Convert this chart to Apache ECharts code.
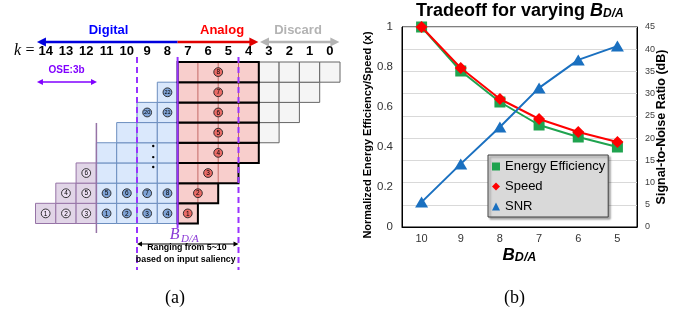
<!DOCTYPE html>
<html>
<head>
<meta charset="utf-8">
<script src="https://cdn.jsdelivr.net/npm/echarts@6/dist/echarts.min.js"></script>
<style>
  html, body { margin: 0; padding: 0; background: #fff; }
  #chart { width: 694px; height: 318px; }
</style>
</head>
<body>
<div id="chart"></div>
<script>
// ---- panel (a): bit layout ----
const bitLabels = ['14', '13', '12', '11', '10', '9', '8', '7', '6', '5', '4', '3', '2', '1', '0'];
// [bit k, row, label]
const purpleCells = [[14, 1, '1'], [13, 1, '2'], [12, 1, '3'], [13, 2, '4'], [12, 2, '5'], [12, 3, '6']];
const blueCells = [
  [11, 1, '1'], [10, 1, '2'], [9, 1, '3'], [8, 1, '4'],
  [11, 2, '5'], [10, 2, '6'], [9, 2, '7'], [8, 2, '8'],
  [11, 3, ''], [10, 3, ''], [9, 3, ''], [8, 3, ''],
  [11, 4, ''], [10, 4, ''], [9, 4, ''], [8, 4, ''],
  [10, 5, ''], [9, 5, ''], [8, 5, ''],
  [9, 6, '20'], [8, 6, '21'],
  [8, 7, '22']
];
const greyCells = [[3, 5], [3, 6], [2, 6], [3, 7], [2, 7], [1, 7], [3, 8], [2, 8], [1, 8], [0, 8]];
// [row, from bit, to bit, label]
const analogRows = [[1, 7, 7, '1'], [2, 7, 6, '2'], [3, 7, 5, '3'], [4, 7, 4, '4'],
  [5, 7, 4, '5'], [6, 7, 4, '6'], [7, 7, 4, '7'], [8, 7, 4, '8']];
const bdaBounds = [10, 8, 5]; // dashed lines sit right of these bits

// ---- panel (b): tradeoff ----
const bdaValues = ['10', '9', '8', '7', '6', '5'];
const energyEff = [1.0, 0.78, 0.625, 0.51, 0.45, 0.40];
const speed = [1.0, 0.795, 0.64, 0.54, 0.475, 0.425];
const snr = [5.6, 14.2, 22.5, 31.3, 37.6, 40.7];

const FONT = 'Arial, "Liberation Sans", sans-serif';
const SERIF = '"Liberation Serif", "DejaVu Serif", serif';

const col = k => 14 - k;

function dot(p, label, fill) {
  return {
    type: 'group', children: [
      { type: 'circle', shape: { cx: p[0], cy: p[1], r: 4.4 }, style: { fill: fill, stroke: '#222', lineWidth: 0.9 } },
      { type: 'text', style: { text: label, x: p[0], y: p[1] + 0.4, align: 'center', verticalAlign: 'middle',
        fontSize: label.length > 1 ? 5.5 : 6.5, fontFamily: FONT, fill: '#000' } }
    ]
  };
}

function cellSeries(cells, fill, stroke, dotFill) {
  return {
    type: 'custom', xAxisIndex: 2, yAxisIndex: 0, silent: true,
    data: cells.map(c => [col(c[0]), c[1]]),
    renderItem: function (params, api) {
      const p = api.coord([api.value(0), api.value(1) - 0.5]);
      const s = api.size([1, 1]);
      const label = cells[params.dataIndex][2];
      const kids = [{ type: 'rect', shape: { x: p[0] - s[0] / 2, y: p[1] - s[1] / 2, width: s[0], height: s[1] },
        style: { fill: fill, stroke: stroke, lineWidth: 1 } }];
      if (label) kids.push(dot(p, label, dotFill));
      return { type: 'group', children: kids };
    }
  };
}

function hArrow(x1, x2, y, color, w, headL, headR, len, half) {
  const kids = [];
  const a = headL ? x1 + len * 0.8 : x1;
  const b = headR ? x2 - len * 0.8 : x2;
  kids.push({ type: 'line', shape: { x1: a, y1: y, x2: b, y2: y }, style: { stroke: color, lineWidth: w } });
  if (headL) kids.push({ type: 'polygon', shape: { points: [[x1, y], [x1 + len, y - half], [x1 + len, y + half]] }, style: { fill: color } });
  if (headR) kids.push({ type: 'polygon', shape: { points: [[x2, y], [x2 - len, y - half], [x2 - len, y + half]] }, style: { fill: color } });
  return { type: 'group', children: kids };
}

const analogSeries = {
  type: 'custom', xAxisIndex: 2, yAxisIndex: 0, silent: true,
  data: analogRows.map(r => [col(r[1]), r[0], col(r[2])]),
  renderItem: function (params, api) {
    const a = api.value(0) - 0.5, b = api.value(2) + 0.5, row = api.value(1);
    const tl = api.coord([a, row]), br = api.coord([b, row - 1]);
    const box = { x: tl[0], y: tl[1], width: br[0] - tl[0], height: br[1] - tl[1] };
    const kids = [{ type: 'rect', shape: box, style: { fill: '#f8cecc' } }];
    for (let x = a + 1; x < b - 0.01; x++) {
      const px = api.coord([x, row])[0];
      kids.push({ type: 'line', shape: { x1: px, y1: tl[1], x2: px, y2: br[1] }, style: { stroke: '#c46a66', lineWidth: 1 } });
    }
    kids.push({ type: 'rect', shape: box, style: { fill: 'none', stroke: '#000', lineWidth: 2 } });
    kids.push(dot(api.coord([(a + b) / 2, row - 0.5]), analogRows[params.dataIndex][3], '#ea6b66'));
    return { type: 'group', children: kids };
  }
};

const noteSeries = {
  type: 'custom', xAxisIndex: 2, yAxisIndex: 0, silent: true, data: [[0, 0]],
  renderItem: function (params, api) {
    const P = (x, y) => api.coord([x, y]);
    const kids = [];
    const yTop = P(0, 8.99)[1];
    kids.push(hArrow(P(-0.43, 0)[0], P(6.5, 0)[0], yTop, '#0000dd', 2.5, true, false, 9, 4.5));
    kids.push(hArrow(P(6.5, 0)[0], P(10.48, 0)[0], yTop, '#e00000', 2.5, false, true, 9, 4.5));
    kids.push(hArrow(P(10.56, 0)[0], P(14.47, 0)[0], yTop, '#b3b3b3', 2.5, true, true, 9, 4.5));
    const tTop = P(0, 9.585)[1];
    [['Digital', 3.1, '#0000ff'], ['Analog', 8.69, '#ff0000'], ['Discard', 12.43, '#b3b3b3']].forEach(t => {
      kids.push({ type: 'text', style: { text: t[0], x: P(t[1], 0)[0], y: tTop, align: 'center', verticalAlign: 'middle',
        font: 'bold 13px ' + FONT, fill: t[2] } });
    });
    const yk = P(0, 8.54)[1];
    kids.push({ type: 'text', style: { text: 'k', x: P(-1.39, 0)[0], y: yk, align: 'center', verticalAlign: 'middle', font: 'italic 16px ' + SERIF, fill: '#000' } });
    kids.push({ type: 'text', style: { text: '=', x: P(-0.77, 0)[0], y: yk, align: 'center', verticalAlign: 'middle', font: '16px ' + SERIF, fill: '#000' } });
    // OSE
    kids.push({ type: 'text', style: { text: 'OSE:3b', x: P(1.03, 0)[0], y: P(0, 7.6)[1], align: 'center', verticalAlign: 'middle', font: 'bold 10px ' + FONT, fill: '#8000ff' } });
    kids.push(hArrow(P(-0.43, 0)[0], P(2.53, 0)[0], P(0, 7.01)[1], '#8000ff', 1.5, true, true, 6, 3));
    // purple separator
    const xs = P(2.5, 0)[0];
    kids.push({ type: 'line', shape: { x1: xs, y1: P(0, 4.98)[1], x2: xs, y2: P(0, -0.47)[1] }, style: { stroke: '#9673a6', lineWidth: 1.5 } });
    // dots
    [3.84, 3.29, 2.8].forEach(v => {
      const p = P(5.3, v);
      kids.push({ type: 'circle', shape: { cx: p[0], cy: p[1], r: 1.2 }, style: { fill: '#000' } });
    });
    // B_D/A range lines
    bdaBounds.forEach((k, i) => {
      const x = P(col(k) + 0.5, 0)[0];
      const mid = i === 1;
      kids.push({ type: 'line', shape: { x1: x, y1: P(0, 8.25)[1], x2: x, y2: P(0, mid ? -0.22 : -2.3)[1] },
        style: { stroke: '#9933ff', lineWidth: 2, lineDash: mid ? null : [6, 4] } });
    });
    kids.push({ type: 'text', style: { text: 'B', x: P(6.35, 0)[0], y: P(0, -0.545)[1], align: 'center', verticalAlign: 'middle', font: 'italic 16px ' + SERIF, fill: '#8a3ad6' } });
    kids.push({ type: 'text', style: { text: 'D/A', x: P(6.67, 0)[0], y: P(0, -0.77)[1], align: 'left', verticalAlign: 'middle', font: 'italic 11px ' + SERIF, fill: '#8a3ad6' } });
    kids.push(hArrow(P(4.5, 0)[0], P(9.5, 0)[0], P(0, -1.015)[1], '#000', 1, true, true, 5, 2.5));
    kids.push({ type: 'text', style: { text: 'Ranging from 5~10', x: P(6.96, 0)[0], y: P(0, -1.21)[1], align: 'center', verticalAlign: 'middle', font: 'bold 8.8px ' + FONT, fill: '#000' } });
    kids.push({ type: 'text', style: { text: 'based on input saliency', x: P(6.9, 0)[0], y: P(0, -1.78)[1], align: 'center', verticalAlign: 'middle', font: 'bold 8.8px ' + FONT, fill: '#000' } });
    return { type: 'group', children: kids };
  }
};

const chart = echarts.init(document.getElementById('chart'));

const option = {
  animation: false,
  backgroundColor: '#fff',
  title: {
    text: '{t|Tradeoff for varying }{b|B}{s|D/A}',
    left: 416, top: 2, padding: 0,
    textStyle: {
      fontFamily: FONT,
      rich: {
        t: { fontSize: 18, fontWeight: 'bold', color: '#000', fontFamily: FONT, verticalAlign: 'bottom' },
        b: { fontSize: 18, fontWeight: 'bold', fontStyle: 'italic', color: '#000', fontFamily: FONT, verticalAlign: 'bottom' },
        s: { fontSize: 12, fontWeight: 'bold', fontStyle: 'italic', color: '#000', fontFamily: FONT, verticalAlign: 'bottom' }
      }
    }
  },
  legend: {
    left: 488, top: 155, orient: 'vertical',
    backgroundColor: '#d9d9d9', borderColor: '#404040', borderWidth: 1, borderRadius: 0,
    shadowColor: 'rgba(0,0,0,0.35)', shadowBlur: 2, shadowOffsetX: 2, shadowOffsetY: 2,
    padding: [5, 3, 4, 4], itemGap: 7, itemWidth: 8, itemHeight: 8, itemTextGap: 2,
    textStyle: { fontSize: 13, color: '#000', fontFamily: FONT },
    data: [
      { name: 'Energy Efficiency', icon: 'rect' },
      { name: 'Speed', icon: 'diamond' },
      { name: 'SNR', icon: 'triangle' }
    ]
  },
  graphic: [
    { type: 'text', left: 165, top: 289, style: { text: '(a)', font: '18px ' + SERIF, fill: '#000' } },
    { type: 'text', left: 504, top: 289, style: { text: '(b)', font: '18px ' + SERIF, fill: '#000' } }
  ],
  grid: [
    { left: 35.5, top: 62, width: 304.5, height: 161.5 },
    { left: 402, top: 27, width: 235, height: 200, show: true, borderColor: '#000', borderWidth: 1, backgroundColor: 'transparent' }
  ],
  xAxis: [
    {
      type: 'category', gridIndex: 0, position: 'top', data: bitLabels,
      axisLine: { show: false }, axisTick: { show: false }, splitLine: { show: false },
      axisLabel: { margin: 4, fontSize: 13, fontWeight: 'bold', color: '#000', fontFamily: FONT, interval: 0 }
    },
    {
      type: 'category', gridIndex: 1, data: bdaValues,
      axisLine: { lineStyle: { color: '#000', width: 1 } }, axisTick: { show: false },
      axisLabel: { margin: 6, fontSize: 11, color: '#333', fontFamily: FONT },
      name: '{b|B}{s|D/A}', nameLocation: 'middle', nameGap: 20, nameMoveOverlap: false,
      nameTextStyle: {
        rich: {
          b: { fontSize: 17, fontWeight: 'bold', fontStyle: 'italic', color: '#000', fontFamily: FONT, verticalAlign: 'bottom' },
          s: { fontSize: 12.5, fontWeight: 'bold', fontStyle: 'italic', color: '#000', fontFamily: FONT, verticalAlign: 'bottom' }
        }
      }
    },
    { type: 'value', gridIndex: 0, min: -0.5, max: 14.5, show: false }
  ],
  yAxis: [
    { type: 'value', gridIndex: 0, min: 0, max: 8, show: false },
    {
      type: 'value', gridIndex: 1, min: 0, max: 1, interval: 0.2, position: 'left',
      axisLine: { show: true, lineStyle: { color: '#000' } }, axisTick: { show: false }, splitLine: { show: false },
      axisLabel: { margin: 9, fontSize: 11.5, color: '#333', fontFamily: FONT },
      name: 'Normalized Energy Efficiency/Speed (x)', nameLocation: 'middle', nameGap: 29, nameMoveOverlap: false,
      nameTextStyle: { fontSize: 11, fontWeight: 'bold', color: '#000', fontFamily: FONT, padding: [0, 16, 0, 0] }
    },
    {
      type: 'value', gridIndex: 1, min: 0, max: 45, interval: 5, position: 'right',
      axisLine: { show: true, lineStyle: { color: '#000' } }, axisTick: { show: false },
      splitLine: { show: true, lineStyle: { color: '#d9d9d9', width: 1 } },
      axisLabel: { margin: 8, fontSize: 9, color: '#404040', fontFamily: FONT },
      name: 'Signal-to-Noise Ratio (dB)', nameLocation: 'middle', nameGap: 18, nameMoveOverlap: false,
      nameTextStyle: { fontSize: 12.5, fontWeight: 'bold', color: '#000', fontFamily: FONT }
    }
  ],
  series: [
    cellSeries(purpleCells, '#e1d5e7', '#9673a6', '#ecdff2'),
    cellSeries(blueCells, '#dae8fc', '#6c8ebf', '#7fa3d6'),
    cellSeries(greyCells.map(c => [c[0], c[1], '']), '#f5f5f5', '#666666', '#fff'),
    analogSeries,
    noteSeries,
    {
      name: 'Energy Efficiency', type: 'line', xAxisIndex: 1, yAxisIndex: 1, data: energyEff,
      symbol: 'rect', symbolSize: 11, color: '#1fa34f', lineStyle: { width: 2, color: '#1fa34f' }, z: 3
    },
    {
      name: 'Speed', type: 'line', xAxisIndex: 1, yAxisIndex: 1, data: speed,
      symbol: 'diamond', symbolSize: 12, color: '#ff0000', lineStyle: { width: 2, color: '#ff0000' }, z: 4
    },
    {
      name: 'SNR', type: 'line', xAxisIndex: 1, yAxisIndex: 2, data: snr,
      symbol: 'triangle', symbolSize: [13, 11], color: '#1a70c0', lineStyle: { width: 2, color: '#1a70c0' }, z: 5
    }
  ]
};

chart.setOption(option);
</script>
</body>
</html>
